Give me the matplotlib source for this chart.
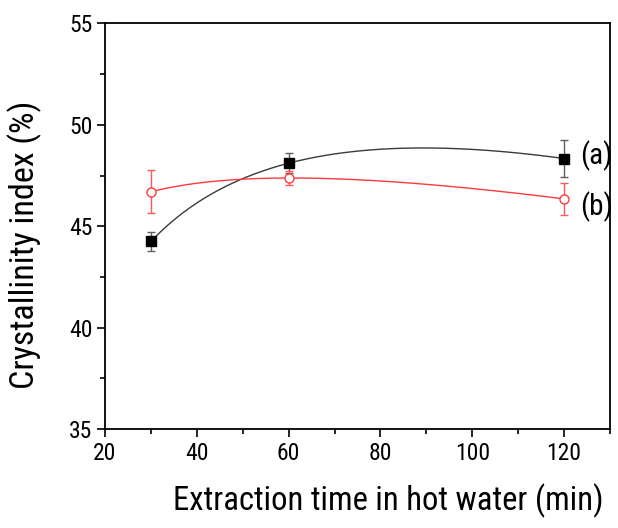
import numpy as np
import matplotlib
matplotlib.use("Agg")
import matplotlib.pyplot as plt
from matplotlib.ticker import MultipleLocator

plt.rcParams['font.family'] = ['Roboto Condensed', 'Archivo Narrow', 'DejaVu Sans']

time = [30, 60, 120]
ci_a = [44.25, 48.11, 48.34]
err_a = [0.45, 0.5, 0.93]
ci_b = [46.70, 47.38, 46.35]
err_b = [1.05, 0.35, 0.8]
series_labels = ['(a)', '(b)']


def fit_curve(x, y, xs):
    x = np.asarray(x, float)
    A = np.column_stack([np.ones_like(x), np.log(x), x])
    coef, *_ = np.linalg.lstsq(A, np.asarray(y, float), rcond=None)
    return coef[0] + coef[1] * np.log(xs) + coef[2] * xs


fig = plt.figure(figsize=(6.18, 5.28), dpi=100)
ax = fig.add_axes([0.170, 0.1875, 0.817, 0.768])

xs = np.linspace(min(time), max(time), 300)
styles = [dict(line='#3a3a3a', err='#606060', marker='s', mfc='black', mec='black'),
          dict(line='#ff3a3a', err='#ff5a5a', marker='o', mfc='white', mec='#ff3a3a')]
for y, e, st in zip([ci_a, ci_b], [err_a, err_b], styles):
    ax.plot(xs, fit_curve(time, y, xs), color=st['line'], lw=1.0, zorder=2)
    ax.errorbar(time, y, yerr=e, fmt='none', ecolor=st['err'], elinewidth=1.0,
                capsize=3, capthick=1.0, zorder=3)
    ax.plot(time, y, marker=st['marker'], ls='none', ms=6.5, mfc=st['mfc'],
            mec=st['mec'], mew=1.0, zorder=4)

ax.text(time[-1] + 3.6, ci_a[-1] + 0.13, series_labels[0], fontsize=21, va='center', ha='left')
ax.text(time[-1] + 3.6, ci_b[-1] - 0.4, series_labels[1], fontsize=21, va='center', ha='left')

ax.set_xlim(20, 130)
ax.set_ylim(35, 55)
ax.xaxis.set_major_locator(MultipleLocator(20))
ax.xaxis.set_minor_locator(MultipleLocator(10))
ax.yaxis.set_major_locator(MultipleLocator(5))
ax.yaxis.set_minor_locator(MultipleLocator(2.5))
ax.tick_params(which='both', direction='out', top=False, right=False, labelsize=17, width=1.2)
ax.tick_params(which='major', length=6, pad=3)
ax.tick_params(which='minor', length=3.5)
for s in ax.spines.values():
    s.set_linewidth(1.3)

ax.set_xlabel('Extraction time in hot water (min)', fontsize=23.5)
ax.set_ylabel('Crystallinity index (%)', fontsize=24.5)
ax.xaxis.set_label_coords(0.56, -0.135)
ax.yaxis.set_label_coords(-0.125, 0.455)

fig.savefig('out.png', dpi=100)
